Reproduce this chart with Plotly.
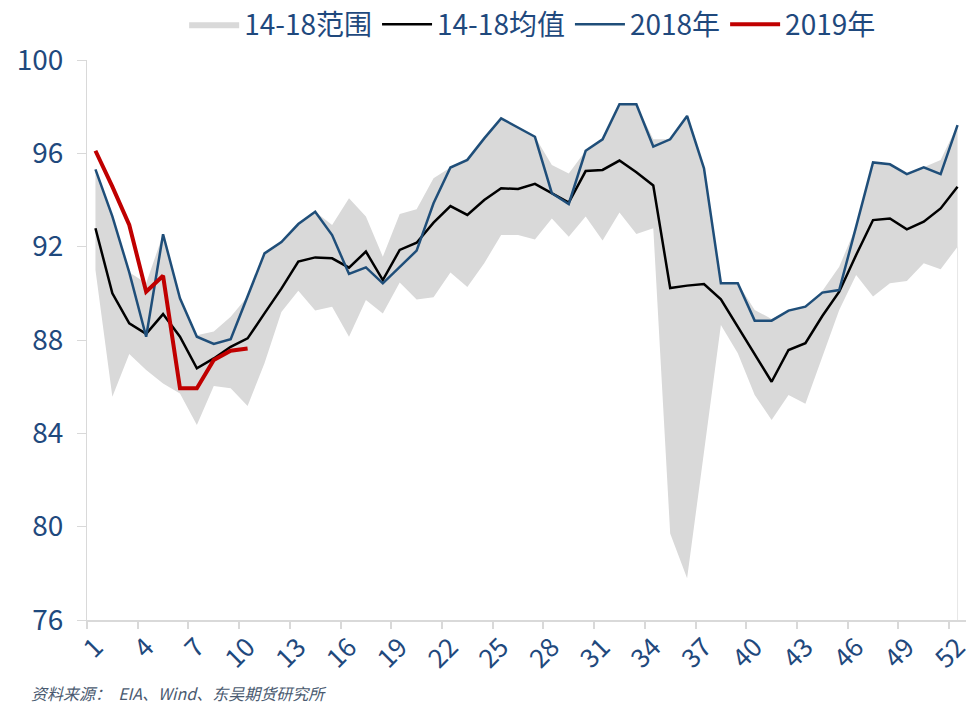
import plotly.graph_objects as go

weeks = list(range(1, 53))

range_upper = [95.31, 93.3, 90.9, 90.43, 92.53, 89.79, 88.2, 88.36, 89.0, 89.86,
               91.71, 92.2, 92.97, 93.5, 92.93, 94.07, 93.29, 91.57, 93.4, 93.6,
               94.93, 95.39, 95.72, 96.64, 97.5, 97.11, 96.71, 95.5, 95.14, 96.11,
               96.6, 98.1, 98.1, 96.6, 96.6, 97.6, 95.36, 90.43, 90.43, 89.29,
               88.9, 89.26, 89.43, 90.1, 91.14, 92.86, 95.61, 95.53, 95.11, 95.4,
               95.71, 97.21]
range_lower = [91.0, 85.57, 87.4, 86.71, 86.14, 85.71, 84.36, 86.03, 85.93, 85.17,
               87.0, 89.2, 90.11, 89.26, 89.43, 88.14, 89.71, 89.14, 90.46, 89.74,
               89.83, 90.89, 90.27, 91.29, 92.5, 92.5, 92.31, 93.21, 92.43, 93.29,
               92.26, 93.46, 92.54, 92.79, 79.71, 77.79, 83.2, 88.64, 87.43, 85.64,
               84.57, 85.64, 85.27, 87.29, 89.29, 90.79, 89.86, 90.43, 90.53, 91.29,
               91.03, 92.0]
mean_14_18 = [92.79, 90.0, 88.71, 88.26, 89.11, 88.14, 86.79, 87.21, 87.71, 88.07,
              89.14, 90.2, 91.36, 91.54, 91.5, 91.1, 91.79, 90.57, 91.86, 92.17,
              93.03, 93.74, 93.36, 94.0, 94.5, 94.47, 94.69, 94.29, 93.89, 95.24,
              95.29, 95.69, 95.19, 94.62, 90.23, 90.33, 90.4, 89.74, 88.56, 87.39,
              86.21, 87.57, 87.86, 89.03, 90.07, 91.64, 93.14, 93.21, 92.74, 93.07,
              93.64, 94.57]
y2018 = [95.31, 93.3, 90.9, 88.14, 92.53, 89.79, 88.14, 87.83, 88.03, 89.9,
         91.71, 92.2, 92.97, 93.5, 92.5, 90.83, 91.11, 90.43, 91.14, 91.83,
         93.86, 95.39, 95.72, 96.64, 97.5, 97.11, 96.71, 94.29, 93.83, 96.11,
         96.6, 98.1, 98.1, 96.29, 96.6, 97.6, 95.36, 90.43, 90.43, 88.83,
         88.83, 89.26, 89.43, 90.03, 90.14, 92.86, 95.61, 95.53, 95.11, 95.4,
         95.11, 97.21]
y2019 = [96.11, 94.57, 92.93, 90.07, 90.75, 85.93, 85.93, 87.14, 87.54, 87.64]

x_tick_vals = list(range(1, 53, 3))
y_tick_vals = [76, 80, 84, 88, 92, 96, 100]

TXT = "#1F497D"
GRAY = "#D9D9D9"
FONT = "Noto Sans CJK SC"

fig = go.Figure()
fig.add_trace(go.Scatter(x=weeks, y=range_lower, mode="lines", line=dict(width=0),
                         showlegend=False, hoverinfo="skip"))
fig.add_trace(go.Scatter(x=weeks, y=range_upper, mode="lines", line=dict(width=0),
                         fill="tonexty", fillcolor=GRAY, name="14-18范围"))
# faint outline at the right end of the band area
fig.add_trace(go.Scatter(x=[weeks[-1], weeks[-1]], y=[y_tick_vals[0], range_lower[-1]],
                         mode="lines", line=dict(color="#E6E6E6", width=1),
                         showlegend=False, hoverinfo="skip"))
fig.add_trace(go.Scatter(x=weeks, y=mean_14_18, mode="lines",
                         line=dict(color="#000000", width=2.5), name="14-18均值"))
fig.add_trace(go.Scatter(x=weeks, y=y2018, mode="lines",
                         line=dict(color="#1F4E79", width=2.5), name="2018年"))
fig.add_trace(go.Scatter(x=weeks[:len(y2019)], y=y2019, mode="lines",
                         line=dict(color="#C00000", width=4), name="2019年"))

fig.update_layout(
    width=966, height=702,
    margin=dict(l=87, r=0, t=60, b=82, autoexpand=False),
    paper_bgcolor="white", plot_bgcolor="white",
    font=dict(family=FONT, color=TXT, size=22),
    legend=dict(orientation="h", x=0.507, xanchor="center", y=1.108, yanchor="top",
                font=dict(size=28, color=TXT), itemwidth=50, traceorder="normal",
                tracegroupgap=0),
    showlegend=True,
)
fig.update_xaxes(
    range=[0.5, 52.5], tickmode="array", tickvals=x_tick_vals,
    ticktext=[str(v) for v in x_tick_vals], tickangle=-45, ticks="",
    showgrid=False, zeroline=False, showline=True, linecolor=GRAY, linewidth=1.5,
    tickfont=dict(size=26, color=TXT), automargin=False, ticklabeloverflow="allow",
    minor=dict(tick0=0.5, dtick=3, ticks="outside", ticklen=7, tickcolor=GRAY,
               tickwidth=1.5, showgrid=False),
)
fig.update_yaxes(
    range=[76, 100], tickmode="array", tickvals=y_tick_vals,
    ticks="outside", ticklen=9, tickcolor=GRAY, tickwidth=1,
    showgrid=False, zeroline=False, showline=True, linecolor=GRAY, linewidth=1,
    tickfont=dict(size=28, color=TXT), ticklabelstandoff=8, automargin=False,
)
fig.add_annotation(text="<i>资料来源：  EIA、Wind、东吴期货研究所</i>", xref="paper", yref="paper",
                   x=-0.066, y=-0.130, xanchor="left", yanchor="middle", showarrow=False,
                   font=dict(size=16, color="#4A5A70", family=FONT))
fig.write_html("out.html", config={"displayModeBar": False},
               post_script="document.body.style.margin='0';document.body.style.overflow='hidden';")
